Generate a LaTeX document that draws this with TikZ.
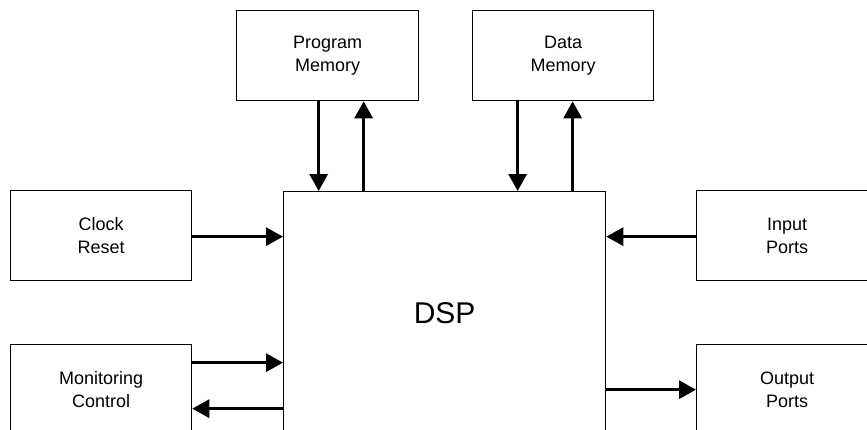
\documentclass[tikz,border=0pt]{standalone}
\usepackage{fontspec}
\setmainfont{Liberation Sans}
\usetikzlibrary{arrows.meta}
\tikzset{
  blk/.style={draw=black, line width=1.3pt, rectangle, inner sep=0pt, anchor=north west,
    align=center, font=\fontsize{18}{23}\selectfont},
  arr/.style={line width=3pt, -{Triangle[length=17pt,width=18pt]}},
}
\begin{document}
\begin{tikzpicture}[x=1pt,y=-1pt]
\clip (0,0) rectangle (867,429);
\fill[white] (0,0) rectangle (867,429);
\node[blk, minimum width=182pt, minimum height=90pt] (pm) at (236,10) {Program\\Memory};
\node[blk, minimum width=181pt, minimum height=90pt] (dm) at (472,10) {Data\\Memory};
\node[blk, minimum width=181pt, minimum height=90pt] (clk) at (10,190) {Clock\\Reset};
\node[blk, minimum width=181pt, minimum height=90pt] (mon) at (10,344) {Monitoring\\Control};
\node[blk, minimum width=181pt, minimum height=90pt] (inp) at (696,190) {Input\\Ports};
\node[blk, minimum width=181pt, minimum height=90pt] (outp) at (696,344) {Output\\Ports};
\node[blk, minimum width=322pt, minimum height=244pt, font=\fontsize{30}{36}\selectfont] (dsp) at (283,191) {DSP};
% memory connectors
\draw[arr] ([xshift=-9pt]pm.south) -- ([xshift=-9pt]pm.south |- dsp.north);
\draw[arr] ([xshift=36pt]pm.south |- dsp.north) -- ([xshift=36pt]pm.south);
\draw[arr] ([xshift=-45.5pt]dm.south) -- ([xshift=-45.5pt]dm.south |- dsp.north);
\draw[arr] ([xshift=9.5pt]dm.south |- dsp.north) -- ([xshift=9.5pt]dm.south);
% side connectors
\draw[arr] ([yshift=-1pt]clk.east) -- ([yshift=-1pt]clk.east -| dsp.west);
\draw[arr] ([yshift=-1pt]inp.west) -- ([yshift=-1pt]inp.west -| dsp.east);
\draw[arr] ([yshift=27pt]mon.east) -- ([yshift=27pt]mon.east -| dsp.west);
\draw[arr] ([yshift=-19pt]mon.east -| dsp.west) -- ([yshift=-19pt]mon.east);
\draw[arr] (outp.west -| dsp.east) -- (outp.west);
\end{tikzpicture}
\end{document}
